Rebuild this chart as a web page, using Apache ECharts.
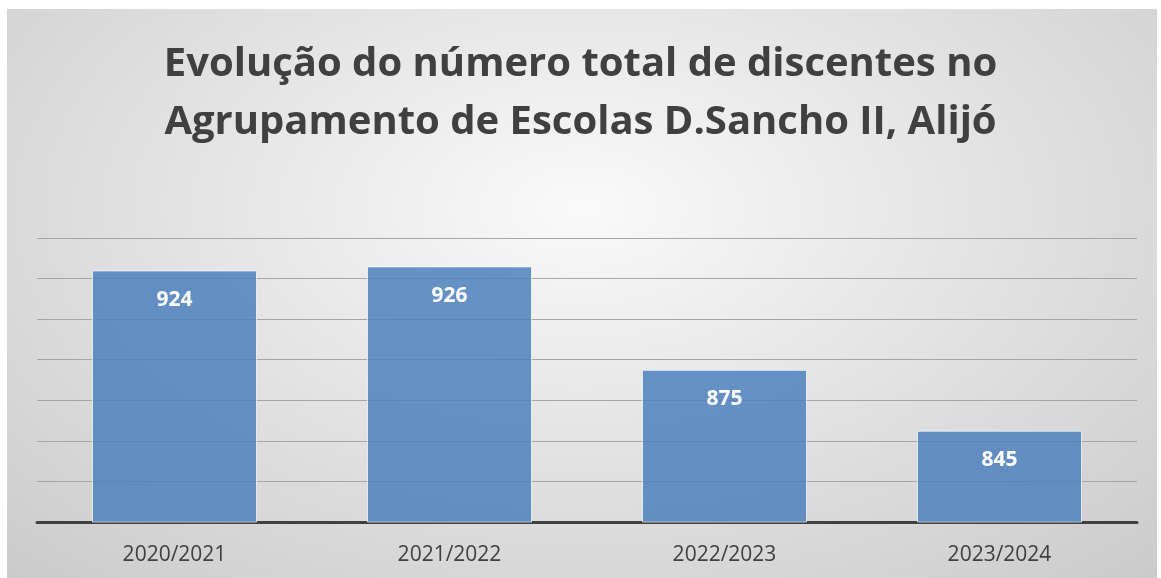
<!DOCTYPE html>
<html><head><meta charset="utf-8">
<script src="https://cdn.jsdelivr.net/npm/echarts@6/dist/echarts.min.js"></script>
<style>
html,body{margin:0;padding:0;width:1161px;height:578px;background:#fff;overflow:hidden;}
#bg{position:absolute;left:7px;top:9px;width:1150px;height:569px;
background:radial-gradient(ellipse 75% 90% at 50% 35%, #fafafa 0%, #e4e4e4 45%, #cacaca 100%);}
#c{position:absolute;left:0;top:0;width:1161px;height:578px;}
</style></head>
<body><div id="bg"></div><div id="c"></div>
<script>
const titleLines = ["Evolução do número total de discentes no", "Agrupamento de Escolas D.Sancho II, Alijó"];
const categories = ["2020/2021", "2021/2022", "2022/2023", "2023/2024"];
const values = [924, 926, 875, 845];
const yMin = 800, yMax = 940, yInterval = 20;

const chart = echarts.init(document.getElementById('c'));
chart.setOption({
  backgroundColor: 'transparent',
  title: {
    text: titleLines.join('\n'),
    left: 'center', top: 31,
    textStyle: {fontFamily: 'Open Sans', fontWeight: 'bold', fontSize: 40, color: '#404040', lineHeight: 58}
  },
  grid: {left: 37, right: 24, top: 238, bottom: 56},
  xAxis: {
    type: 'category', data: categories,
    axisLine: {show: true, lineStyle: {color: '#404040', width: 3}},
    axisTick: {show: false},
    axisLabel: {fontFamily: 'Open Sans', fontSize: 21, color: '#404040', margin: 23}
  },
  yAxis: {
    type: 'value', min: yMin, max: yMax, interval: yInterval,
    axisLabel: {show: false}, axisLine: {show: false}, axisTick: {show: false},
    splitLine: {lineStyle: {color: '#a6a6a6', width: 1}}
  },
  series: [{
    type: 'bar', data: values, barWidth: '60%',
    itemStyle: {color: 'rgba(79,129,189,0.86)', borderColor: 'rgba(255,255,255,0.7)', borderWidth: 1},
    label: {show: true, position: 'insideTop', distance: 19, fontFamily: 'Open Sans', fontWeight: 'bold', fontSize: 21, color: '#ffffff'}
  }]
});
</script></body></html>
